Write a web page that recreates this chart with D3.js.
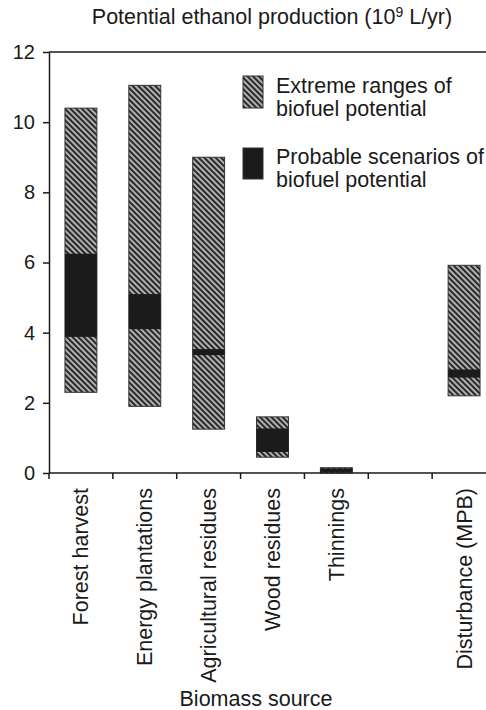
<!DOCTYPE html>
<meta charset="utf-8">
<title>Biofuel potential</title>
<script src="https://d3js.org/d3.v7.min.js"></script>
<body style="margin:0;background:#fff">
<div id="chart"></div>
</body>
<script>
  // biomass sources (one empty slot between Thinnings and Disturbance)
  var sources = ["Forest harvest", "Energy plantations", "Agricultural residues", "Wood residues", "Thinnings", "", "Disturbance (MPB)"];
  // extreme ranges (10^9 L/yr)
  var extremeLow  = [2.3, 1.9, 1.25, 0.45, 0, null, 2.2];
  var extremeHigh = [10.4, 11.05, 9.0, 1.6, 0.15, null, 5.92];
  // probable scenarios
  var probableLow  = [3.88, 4.1, 3.36, 0.6, 0.03, null, 2.72];
  var probableHigh = [6.25, 5.1, 3.53, 1.27, 0.13, null, 2.95];
  var yTicks = [0, 2, 4, 6, 8, 10, 12];

  var W = 486, H = 710;
  var font = "'Liberation Sans', Arial, sans-serif";
  var ink = "#1a1a1a";

  var svg = d3.select("#chart").append("svg")
    .attr("width", W).attr("height", H)
    .style("font-family", font);

  // hatch pattern
  var defs = svg.append("defs");
  var pat = defs.append("pattern")
    .attr("id", "hatch")
    .attr("patternUnits", "userSpaceOnUse")
    .attr("width", 4).attr("height", 4)
    .attr("patternTransform", "rotate(-45)");
  pat.append("rect").attr("width", 4).attr("height", 4).attr("fill", "#b0b0b0");
  pat.append("rect").attr("width", 1.9).attr("height", 4).attr("fill", "#222");

  var x = d3.scaleBand()
    .domain(sources)
    .range([49, 496])
    .paddingInner(0.5)
    .paddingOuter(0.25);

  var y = d3.scaleLinear()
    .domain([0, 12])
    .range([473, 52]);

  var idx = d3.range(sources.length).filter(function(i) { return extremeLow[i] != null; });

  // extreme range bars
  svg.append("g").selectAll("rect")
    .data(idx)
    .join("rect")
    .attr("x", function(i) { return x(sources[i]); })
    .attr("width", x.bandwidth())
    .attr("y", function(i) { return y(extremeHigh[i]); })
    .attr("height", function(i) { return y(extremeLow[i]) - y(extremeHigh[i]); })
    .attr("fill", "url(#hatch)")
    .attr("stroke", "#333")
    .attr("stroke-width", 1);

  // probable scenarios
  svg.append("g").selectAll("rect")
    .data(idx)
    .join("rect")
    .attr("x", function(i) { return x(sources[i]); })
    .attr("width", x.bandwidth())
    .attr("y", function(i) { return y(probableHigh[i]); })
    .attr("height", function(i) { return y(probableLow[i]) - y(probableHigh[i]); })
    .attr("fill", "#1b1b1b");

  // y axis
  var yAxis = svg.append("g")
    .attr("transform", "translate(49,0)")
    .call(d3.axisLeft(y).tickValues(yTicks).tickSize(6).tickPadding(8).tickSizeOuter(0));
  yAxis.selectAll("line, path").attr("stroke", ink).attr("stroke-width", 1.5);
  yAxis.selectAll("text").attr("font-size", 20).attr("font-family", font).attr("fill", ink);

  // frame lines top and bottom
  svg.append("line").attr("x1", 49).attr("x2", W).attr("y1", y(12)).attr("y2", y(12))
    .attr("stroke", ink).attr("stroke-width", 1.5);
  svg.append("line").attr("x1", 49).attr("x2", W).attr("y1", y(0)).attr("y2", y(0))
    .attr("stroke", ink).attr("stroke-width", 1.5);

  // x ticks at band boundaries
  var step = x.step();
  svg.append("g").selectAll("line")
    .data(sources)
    .join("line")
    .attr("x1", function(d) { return x(d) - step * 0.25; })
    .attr("x2", function(d) { return x(d) - step * 0.25; })
    .attr("y1", y(0)).attr("y2", y(0) + 6)
    .attr("stroke", ink).attr("stroke-width", 1.5);

  // x labels
  svg.append("g").selectAll("text")
    .data(sources)
    .join("text")
    .attr("transform", function(d) { return "translate(" + (x(d) + x.bandwidth() / 2) + ",488) rotate(-90)"; })
    .attr("text-anchor", "end")
    .attr("dy", "0.35em")
    .attr("font-size", 21.5)
    .attr("fill", ink)
    .text(function(d) { return d; });

  // title
  var title = svg.append("text")
    .attr("x", 272).attr("y", 24)
    .attr("text-anchor", "middle")
    .attr("font-size", 21.5)
    .attr("fill", ink);
  title.append("tspan").text("Potential ethanol production (10");
  title.append("tspan").attr("dy", -7).attr("font-size", 14).text("9");
  title.append("tspan").attr("dy", 7).text(" L/yr)");

  // x axis title
  svg.append("text")
    .attr("x", 256).attr("y", 706)
    .attr("text-anchor", "middle")
    .attr("font-size", 21.5)
    .attr("fill", ink)
    .text("Biomass source");

  // legend
  var legend = [
    {fill: "url(#hatch)", top: 76, h: 32, lines: ["Extreme ranges of", "biofuel potential"], base: 93},
    {fill: "#1b1b1b", top: 148, h: 31, lines: ["Probable scenarios of", "biofuel potential"], base: 164}
  ];
  var lg = svg.append("g").selectAll("g").data(legend).join("g");
  lg.append("rect")
    .attr("x", 243).attr("width", 20)
    .attr("y", function(d) { return d.top; })
    .attr("height", function(d) { return d.h; })
    .attr("fill", function(d) { return d.fill; })
    .attr("stroke", "#333");
  lg.each(function(d) {
    var t = d3.select(this).append("text")
      .attr("x", 276).attr("y", d.base)
      .attr("font-size", 21.5)
      .attr("fill", ink);
    d.lines.forEach(function(s, k) {
      t.append("tspan").attr("x", 276).attr("dy", k ? 23 : 0).text(s);
    });
  });
</script>
